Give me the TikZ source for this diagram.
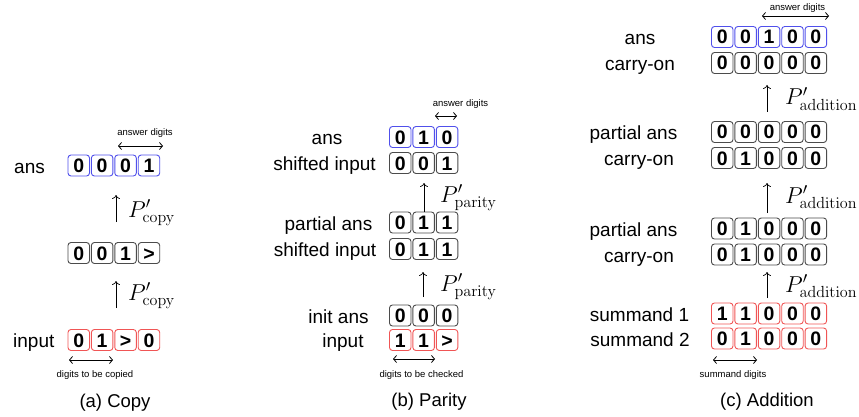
\RequirePackage{fix-cm}
\documentclass[tikz,border=0pt]{standalone}
\usepackage[no-math]{fontspec}
\setmainfont{Liberation Sans}
\usetikzlibrary{arrows.meta}
\definecolor{ansblue}{RGB}{80,80,235}
\definecolor{inred}{RGB}{240,85,85}
\definecolor{cellgray}{RGB}{75,75,75}
\tikzset{
 cellbox/.style={draw=cellgray, line width=0.9pt, rounded corners=3pt, minimum width=21.5pt, minimum height=21pt, inner sep=0pt, text height=14pt, text depth=0pt, font=\bfseries\fontsize{19.5}{19.5}\selectfont},
 bluecell/.style={draw=ansblue},
 redcell/.style={draw=inred},
 plaincell/.style={},
 rowlabel/.style={anchor=mid, inner sep=0pt, yshift=-4pt, font=\fontsize{19}{22}\selectfont},
 smalltext/.style={anchor=mid, inner sep=0pt, yshift=-1.5pt, font=\fontsize{9.5}{11}\selectfont},
 captiontext/.style={anchor=center, inner sep=0pt, font=\fontsize{18.5}{22}\selectfont},
 steparrow/.style={line width=0.7pt, -{To[length=4pt,width=8pt]}},
 spanarrow/.style={line width=0.8pt, {Straight Barb[length=3pt,width=7pt]}-{Straight Barb[length=3pt,width=7pt]}},
 plabel/.style={anchor=base west, inner sep=0pt, font=\fontsize{23}{27}\selectfont},
}
\newcommand{\cellrow}[5]{\foreach \dg [count=\i] in {#5} {\node[cellbox,#4] (#1-\i) at ({#2+10.75+(\i-1)*23.4},#3) {\dg};}}
\begin{document}
\begin{tikzpicture}[x=1pt,y=-1pt]
\useasboundingbox (0,0) rectangle (859,417);
% ---------------- Copy ----------------
\cellrow{cA}{68}{165.5}{bluecell}{0,0,0,1}
\cellrow{cM}{68}{253}{plaincell}{0,0,1,>}
\cellrow{cI}{68}{340}{redcell}{0,1,>,0}
\node[rowlabel, anchor=mid west] (lcA) at (14,166.5) {ans};
\node[rowlabel, anchor=mid west] (lcI) at (13,341) {input};
\coordinate (c1s) at (116,222); \coordinate (c1e) at (116,195);
\coordinate (c2s) at (116,308); \coordinate (c2e) at (116,281);
\draw[steparrow] (c1s) -- (c1e);
\draw[steparrow] (c2s) -- (c2e);
\node[plabel] (pc1) at (128,217) {$P'_{\mathrm{copy}}$};
\node[plabel] (pc2) at (128,300) {$P'_{\mathrm{copy}}$};
\coordinate (cta) at (118,146); \coordinate (ctb) at (163,146);
\draw[spanarrow] (cta) -- (ctb);
\node[smalltext] (tca) at (145,131) {answer digits};
\coordinate (cba) at (69,360); \coordinate (cbb) at (113,360);
\draw[spanarrow] (cba) -- (cbb);
\node[smalltext] (tcb) at (95,373) {digits to be copied};
\node[captiontext] (capa) at (115,402.5) {(a) Copy};
% ---------------- Parity ----------------
\cellrow{pA}{389.5}{137}{bluecell}{0,1,0}
\cellrow{pS}{389.5}{163}{plaincell}{0,0,1}
\cellrow{pP}{389.5}{222.5}{plaincell}{0,1,1}
\cellrow{pT}{389.5}{249}{plaincell}{0,1,1}
\cellrow{pN}{389.5}{315.5}{plaincell}{0,0,0}
\cellrow{pI}{389.5}{340}{redcell}{1,1,>}
\node[rowlabel] (lpA) at (327,138) {ans};
\node[rowlabel] (lpS) at (324.5,164) {shifted input};
\node[rowlabel] (lpP) at (328.5,223.5) {partial ans};
\node[rowlabel] (lpT) at (325,250) {shifted input};
\node[rowlabel] (lpN) at (338.5,316.5) {init ans};
\node[rowlabel] (lpI) at (343,341) {input};
\coordinate (p1s) at (424,212); \coordinate (p1e) at (424,183);
\coordinate (p2s) at (423,297); \coordinate (p2e) at (423,272);
\draw[steparrow] (p1s) -- (p1e);
\draw[steparrow] (p2s) -- (p2e);
\node[plabel] (pp1) at (440,202) {$P'_{\mathrm{parity}}$};
\node[plabel] (pp2) at (440,291) {$P'_{\mathrm{parity}}$};
\coordinate (pta) at (435,116); \coordinate (ptb) at (457,116);
\draw[spanarrow] (pta) -- (ptb);
\node[smalltext] (tpa) at (460.5,102) {answer digits};
\coordinate (pba) at (393,359); \coordinate (pbb) at (435,359);
\draw[spanarrow] (pba) -- (pbb);
\node[smalltext] (tpb) at (421.5,373) {digits to be checked};
\node[captiontext] (capb) at (429,402) {(b) Parity};
% ---------------- Addition ----------------
\cellrow{aA}{711.5}{37}{bluecell}{0,0,1,0,0}
\cellrow{aC}{711.5}{63}{plaincell}{0,0,0,0,0}
\cellrow{aP}{711.5}{132}{plaincell}{0,0,0,0,0}
\cellrow{aD}{711.5}{158}{plaincell}{0,1,0,0,0}
\cellrow{aQ}{711.5}{228.5}{plaincell}{0,1,0,0,0}
\cellrow{aE}{711.5}{254.5}{plaincell}{0,1,0,0,0}
\cellrow{aS}{711.5}{313.5}{redcell}{1,1,0,0,0}
\cellrow{aT}{711.5}{338.5}{redcell}{0,1,0,0,0}
\node[rowlabel] (laA) at (640,38) {ans};
\node[rowlabel] (laC) at (640,64) {carry-on};
\node[rowlabel] (laP) at (633.5,133) {partial ans};
\node[rowlabel] (laD) at (639,159) {carry-on};
\node[rowlabel] (laQ) at (633.5,229.5) {partial ans};
\node[rowlabel] (laE) at (639,255.5) {carry-on};
\node[rowlabel] (laS) at (639.5,314.5) {summand 1};
\node[rowlabel] (laT) at (640,339.5) {summand 2};
\coordinate (a1s) at (767,112); \coordinate (a1e) at (767,85);
\coordinate (a2s) at (767,213); \coordinate (a2e) at (767,183);
\coordinate (a3s) at (767,298); \coordinate (a3e) at (767,272);
\draw[steparrow] (a1s) -- (a1e);
\draw[steparrow] (a2s) -- (a2e);
\draw[steparrow] (a3s) -- (a3e);
\node[plabel] (pa1) at (785,105) {$P'_{\mathrm{addition}}$};
\node[plabel] (pa2) at (785,203) {$P'_{\mathrm{addition}}$};
\node[plabel] (pa3) at (785,292) {$P'_{\mathrm{addition}}$};
\coordinate (ata) at (762,16); \coordinate (atb) at (829,16);
\draw[spanarrow] (ata) -- (atb);
\node[smalltext] (taa) at (797.5,6) {answer digits};
\coordinate (aba) at (713,360); \coordinate (abb) at (757,360);
\draw[spanarrow] (aba) -- (abb);
\node[smalltext] (tab) at (733,373) {summand digits};
\node[captiontext] (capc) at (767,402) {(c) Addition};
\end{tikzpicture}
\end{document}
